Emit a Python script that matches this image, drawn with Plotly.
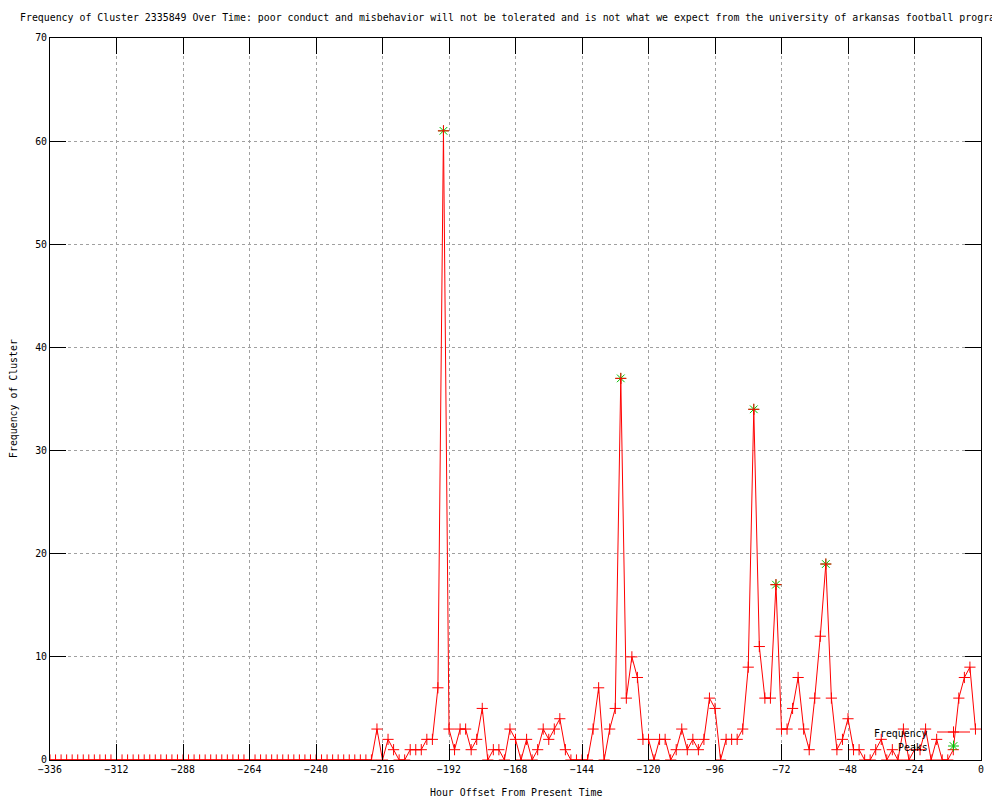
import plotly.graph_objects as go

TITLE = ("Frequency of Cluster 2335849 Over Time: poor conduct and misbehavior will not be "
         "tolerated and is not what we expect from the university of arkansas football program")
X_LABEL = "Hour Offset From Present Time"
Y_LABEL = "Frequency of Cluster"

hours = list(range(-336, 0, 2))
frequency = [
    0, 0, 0, 0, 0, 0, 0, 0, 0, 0, 0, 0, 0, 0, 0, 0, 0, 0, 0, 0,
    0, 0, 0, 0, 0, 0, 0, 0, 0, 0, 0, 0, 0, 0, 0, 0, 0, 0, 0, 0,
    0, 0, 0, 0, 0, 0, 0, 0, 0, 0, 0, 0, 0, 0, 0, 0, 0, 0, 0,
    3, 0, 2, 1, 0, 0, 1, 1, 1, 2,
    2, 7, 61, 3, 1, 3, 3, 1, 2, 5,
    0, 1, 1, 0, 3, 2, 0, 2, 0, 1,
    3, 2, 3, 4, 1, 0, 0, 0, 0, 3,
    7, 0, 3, 5, 37, 6, 10, 8, 2, 2,
    0, 2, 2, 0, 1, 3, 1, 2, 1, 2,
    6, 5, 0, 2, 2, 2, 3, 9, 34, 11,
    6, 6, 17, 3, 3, 5, 8, 3, 1, 6,
    12, 19, 6, 1, 2, 4, 1, 1, 0, 0,
    1, 2, 0, 1, 0, 3, 0, 1, 1, 3,
    0, 2, 0, 0, 1, 6, 8, 9, 3,
]
peak_hours = [-194, -130, -82, -74, -56]
peak_values = [61, 37, 34, 17, 19]

x_ticks = list(range(-336, 1, 24))
y_ticks = list(range(0, 71, 10))

RED = "#ff0000"
GREEN = "#00c000"
FONT = "DejaVu Sans Mono"
FS = 9.9

# the page body has an 8px margin, so the figure is sized/positioned to compensate
W, H = 992, 792

fig = go.Figure()

fig.add_trace(go.Scatter(
    x=peak_hours, y=peak_values, mode="markers", name="Peaks",
    marker=dict(symbol="asterisk-open", size=9, color=GREEN, line=dict(color=GREEN, width=1)),
    showlegend=False, hoverinfo="skip"))

fig.add_trace(go.Scatter(
    x=hours, y=frequency, mode="lines+markers", name="Frequency",
    line=dict(color=RED, width=1),
    marker=dict(symbol="cross-thin-open", size=8, color=RED, line=dict(color=RED, width=1)),
    showlegend=False))

# legend samples (gnuplot style: text left, sample right), on a pixel-coordinate overlay axis
fig.add_trace(go.Scatter(
    x=[937, 970], y=[732, 732], mode="lines", xaxis="x2", yaxis="y2",
    line=dict(color=RED, width=1), showlegend=False, hoverinfo="skip"))
fig.add_trace(go.Scatter(
    x=[953.5], y=[732], mode="markers", xaxis="x2", yaxis="y2",
    marker=dict(symbol="cross-thin-open", size=8, color=RED, line=dict(color=RED, width=1)),
    showlegend=False, hoverinfo="skip"))
fig.add_trace(go.Scatter(
    x=[953.5], y=[746], mode="markers", xaxis="x2", yaxis="y2",
    marker=dict(symbol="asterisk-open", size=9, color=GREEN, line=dict(color=GREEN, width=1)),
    showlegend=False, hoverinfo="skip"))

axis_common = dict(
    showline=True, linecolor="black", linewidth=1, mirror="ticks",
    ticks="inside", ticklen=16, tickcolor="black", tickwidth=1,
    showgrid=True, gridcolor="#a0a0a0", griddash="dot", gridwidth=1,
    zeroline=False, tickfont=dict(family=FONT, size=FS, color="black"),
)

fig.update_layout(
    width=W, height=H,
    paper_bgcolor="white", plot_bgcolor="white",
    margin=dict(l=42, r=19, t=30, b=40),
    font=dict(family=FONT, size=FS, color="black"),
    title=dict(text=TITLE, x=12 / W, xref="container", xanchor="left",
               y=1 - 10 / H, yref="container", yanchor="middle",
               font=dict(family=FONT, size=FS, color="black")),
    xaxis=dict(range=[-336, 0], tickmode="array", tickvals=x_ticks, **axis_common),
    yaxis=dict(range=[0, 70], tickmode="array", tickvals=y_ticks, **axis_common),
    xaxis2=dict(range=[50, 981], overlaying="x", visible=False, fixedrange=True),
    yaxis2=dict(range=[760, 38], overlaying="y", visible=False, fixedrange=True),
    annotations=[
        dict(text=X_LABEL, xref="paper", yref="paper", x=0.5, y=(760 - 793) / 722,
             xanchor="center", yanchor="middle", showarrow=False,
             font=dict(family=FONT, size=FS, color="black")),
        dict(text=Y_LABEL, xref="paper", yref="paper", x=(13 - 50) / 931, y=0.5,
             xanchor="center", yanchor="middle", showarrow=False, textangle=-90,
             font=dict(family=FONT, size=FS, color="black")),
        dict(text="Frequency", xref="paper", yref="paper", x=(930 - 50) / 931,
             y=(760 - 733) / 722, xanchor="right", yanchor="middle", showarrow=False,
             font=dict(family=FONT, size=FS, color="black")),
        dict(text="Peaks", xref="paper", yref="paper", x=(930 - 50) / 931,
             y=(760 - 747) / 722, xanchor="right", yanchor="middle", showarrow=False,
             font=dict(family=FONT, size=FS, color="black")),
    ],
)

fig.write_html("out.html")
